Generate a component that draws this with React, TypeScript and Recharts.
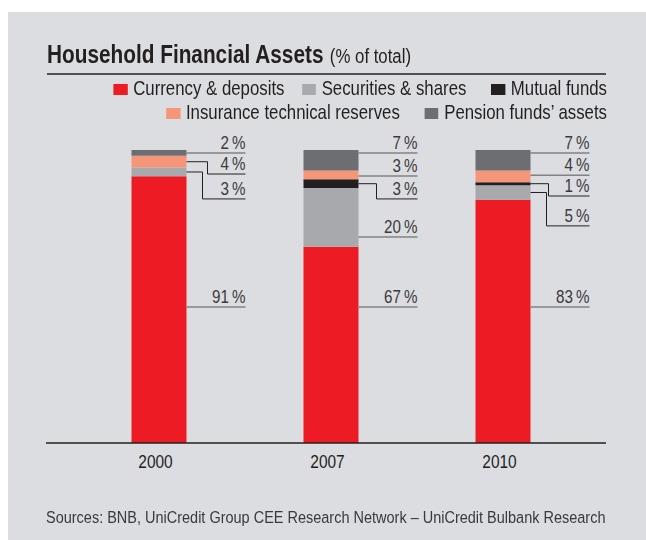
import React from 'react';
import { BarChart, Bar, XAxis, YAxis, Legend, LabelList } from 'recharts';

// ---- data ----
const categories = ['2000', '2007', '2010'];
const currencyDeposits = [91, 67, 83];
const securitiesShares = [3, 20, 5];
const mutualFunds = [0, 3, 1];
const insuranceReserves = [4, 3, 4];
const pensionAssets = [2, 7, 7];

// level (in % of the stack, from its base) at which each value label sits
const currencyLabelLevel = [46.4, 46.4, 46.4];
const securitiesLabelLevel = [83.3, 70.3, 74.1];
const mutualLabelLevel = [0, 83.3, 84.3];
const insuranceLabelLevel = [91.8, 91.1, 91.4];
const pensionLabelLevel = [99, 99, 99];

const TITLE = 'Household Financial Assets';
const SUBTITLE = '(% of total)';
const SOURCE = 'Sources: BNB, UniCredit Group CEE Research Network \u2013 UniCredit Bulbank Research';

const FONT = "'Liberation Sans', Arial, Helvetica, sans-serif";
const INK = '#231f20';
const BG = '#dcdde0';

type Series = {
  key: string;
  name: string;
  color: string;
  values: number[];
  labelLevel: number[];
  elbow: number;
};

// stacking order bottom -> top
const series: Series[] = [
  { key: 'currency', name: 'Currency & deposits', color: '#ed1c24', values: currencyDeposits, labelLevel: currencyLabelLevel, elbow: 16 },
  { key: 'securities', name: 'Securities & shares', color: '#a7a9ac', values: securitiesShares, labelLevel: securitiesLabelLevel, elbow: 16 },
  { key: 'mutual', name: 'Mutual funds', color: '#231f20', values: mutualFunds, labelLevel: mutualLabelLevel, elbow: 18 },
  { key: 'insurance', name: 'Insurance technical reserves', color: '#f69679', values: insuranceReserves, labelLevel: insuranceLabelLevel, elbow: 21 },
  { key: 'pension', name: "Pension funds\u2019 assets", color: '#6d6e71', values: pensionAssets, labelLevel: pensionLabelLevel, elbow: 21 },
];

const legendRows = [
  ['currency', 'securities', 'mutual'],
  ['insurance', 'pension'],
];

const data = categories.map((year, i) => {
  const row: Record<string, string | number> = { year };
  series.forEach((s) => {
    row[s.key] = s.values[i];
  });
  return row;
});

const W = 638;
const H = 528;

const makeLabel = (s: Series, sIdx: number) => (props: any) => {
  const vb = props.viewBox || {};
  const x = vb.x ?? props.x;
  const y = vb.y ?? props.y;
  const width = vb.width ?? props.width;
  const height = vb.height ?? props.height;
  let index = categories.indexOf(String(props.value));
  if (index < 0) index = props.index;
  if (index == null || index < 0) return null;
  const v = s.values[index];
  if (!v || !height) return null;
  const base = series.slice(0, sIdx).reduce((a, t) => a + t.values[index], 0);
  const ppu = height / v;
  const bottom = y + height + base * ppu;
  const ly = bottom - s.labelLevel[index] * ppu;
  const right = x + width;
  const end = right + 59;
  const cy = y + height / 2;
  const straight = ly >= y - 0.5 && ly <= y + height + 0.5;
  return (
    <g key={`lbl-${s.key}-${index}`}>
      {straight ? (
        <line x1={right} y1={ly} x2={end} y2={ly} stroke="#808285" strokeWidth={1.5} />
      ) : (
        <polyline
          points={`${right},${cy} ${right + s.elbow},${cy} ${right + s.elbow},${ly} ${end},${ly}`}
          fill="none"
          stroke={INK}
          strokeWidth={1}
        />
      )}
      <text
        transform={`translate(${end},${ly - 4}) scale(0.82,1)`}
        textAnchor="end"
        fontFamily={FONT}
        fontSize={18.5}
        fill="#3a3a3c"
      >
        {`${v}\u2009%`}
      </text>
    </g>
  );
};

const YearTick = (props: any) => {
  const { x, y, payload } = props;
  return (
    <text
      transform={`translate(${x - 3},${y + 25}) scale(0.86,1)`}
      textAnchor="middle"
      fontFamily={FONT}
      fontSize={18}
      fill={INK}
    >
      {payload.value}
    </text>
  );
};

const LegendContent = () => (
  <div style={{ width: 800, fontFamily: FONT, fontSize: 21, color: INK }}>
    {legendRows.map((row, r) => (
      <div
        key={r}
        style={{
          height: 24,
          lineHeight: '24px',
          whiteSpace: 'nowrap',
          textAlign: 'right',
          transform: 'scaleX(0.8)',
          transformOrigin: 'right center',
        }}
      >
        {row.map((k, j) => {
          const s = series.find((t) => t.key === k)!;
          return (
            <span key={k} style={{ marginLeft: j === 0 ? 0 : r === 0 && j === 1 ? 22 : 31 }}>
              <span
                style={{
                  display: 'inline-block',
                  width: 17.5,
                  height: 11,
                  background: s.color,
                  marginRight: 7,
                }}
              />
              {s.name}
            </span>
          );
        })}
      </div>
    ))}
  </div>
);

export default function App() {
  return (
    <div style={{ position: 'fixed', left: 8, top: 12, width: W, height: H, background: BG }}>
      <BarChart
        width={W}
        height={H}
        data={data}
        margin={{ top: 138, right: 40, bottom: 67, left: 38 }}
      >
        <YAxis hide domain={[0, 100]} />
        <XAxis
          dataKey="year"
          height={30}
          padding={{ left: 26.5, right: 17.5 }}
          axisLine={{ stroke: INK, strokeWidth: 1.5 }}
          tickLine={false}
          tickSize={0}
          tickMargin={0}
          tick={<YearTick />}
          interval={0}
        />
        <Legend
          layout="horizontal"
          verticalAlign="middle"
          align="center"
          wrapperStyle={{ top: 64, left: -201, width: 800 }}
          content={<LegendContent />}
        />
        {series.map((s, i) => (
          <Bar
            key={s.key}
            dataKey={s.key}
            name={s.name}
            stackId="total"
            fill={s.color}
            barSize={55}
            isAnimationActive={false}
          >
            <LabelList dataKey="year" content={makeLabel(s, i)} />
          </Bar>
        ))}
      </BarChart>
      <svg
        width={W}
        height={H}
        style={{ position: 'absolute', left: 0, top: 0, pointerEvents: 'none' }}
      >
        <text transform="translate(39,51) scale(0.8,1)" fontFamily={FONT} fill={INK}>
          <tspan fontSize={26} fontWeight="bold">{TITLE}</tspan>
          <tspan fontSize={21} dx={8}>{SUBTITLE}</tspan>
        </text>
        <line x1={39} y1={62} x2={598} y2={62} stroke={INK} strokeWidth={1.5} />
        <text
          transform="translate(38,511) scale(0.853,1)"
          fontFamily={FONT}
          fontSize={17}
          fill="#3a3a3c"
        >
          {SOURCE}
        </text>
      </svg>
    </div>
  );
}
